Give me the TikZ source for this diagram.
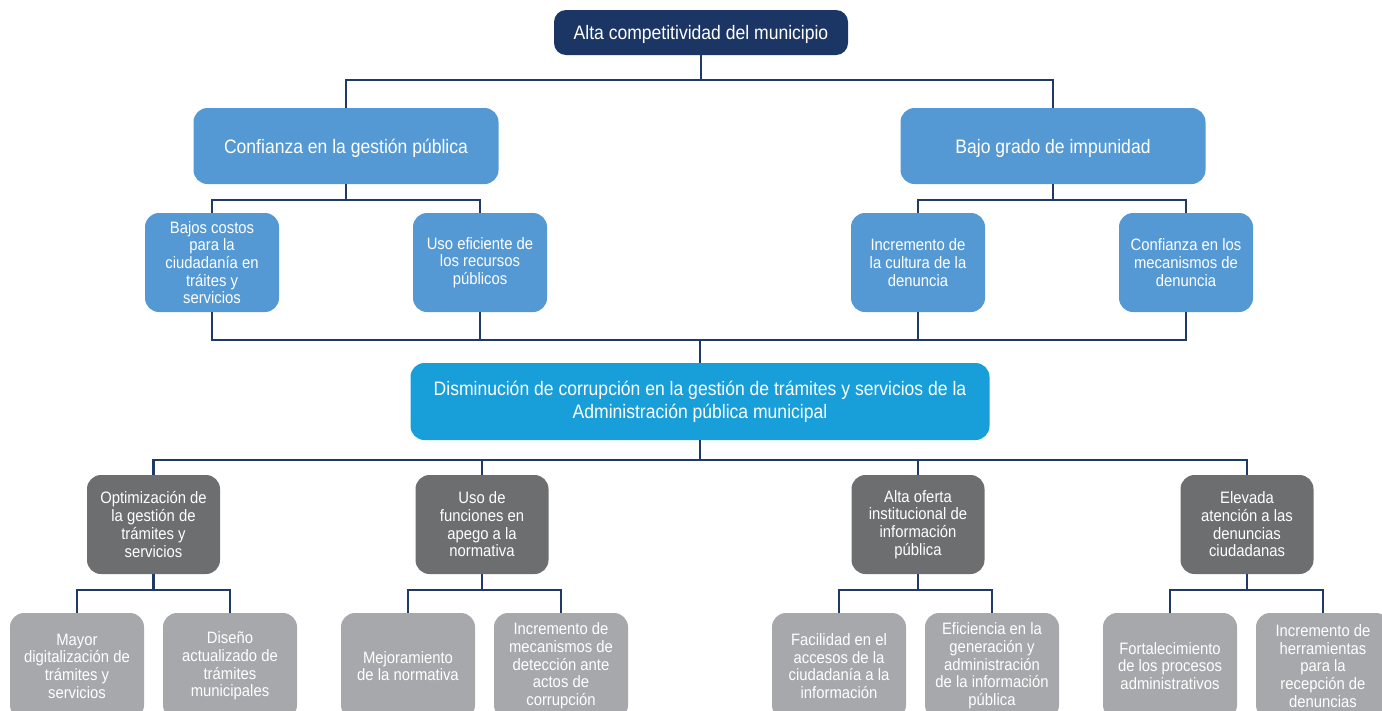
\documentclass[tikz,border=0pt]{standalone}
\usepackage{fontspec}
\setmainfont[FakeStretch=0.9]{Liberation Sans}
\usepackage{tikz}
\usetikzlibrary{positioning}
\usepackage{xcolor}
\definecolor{mnavy}{RGB}{27,53,100}
\definecolor{mline}{RGB}{31,57,104}
\definecolor{mblue}{RGB}{84,153,211}
\definecolor{mcyan}{RGB}{24,159,217}
\definecolor{mdgray}{RGB}{109,110,112}
\definecolor{mlgray}{RGB}{166,168,171}
\newcommand{\bigtxt}{\fontsize{19.5}{23}\selectfont}
\newcommand{\smalltxt}{\fontsize{16.5}{17.7}\selectfont}
\tikzstyle{goal} = [rectangle, rounded corners=12pt, minimum width=294pt, minimum height=45pt, text height=14pt, text depth=0pt, text centered, fill=mnavy, text=white, font=\bigtxt]
\tikzstyle{effect} = [rectangle, rounded corners=14pt, minimum width=305pt, minimum height=76pt, text height=14pt, text depth=0pt, text centered, fill=mblue, text=white, font=\bigtxt]
\tikzstyle{subeffect} = [rectangle, rounded corners=14pt, minimum width=134pt, minimum height=99pt, inner sep=0pt, align=center, fill=mblue, text=white, font=\smalltxt]
\tikzstyle{core} = [rectangle, rounded corners=14pt, minimum width=579pt, minimum height=77pt, align=center, fill=mcyan, text=white, font=\bigtxt]
\tikzstyle{means} = [rectangle, rounded corners=14pt, minimum width=133pt, minimum height=99pt, inner sep=0pt, align=center, fill=mdgray, text=white, font=\smalltxt]
\tikzstyle{action} = [rectangle, rounded corners=14pt, minimum width=134pt, minimum height=106pt, inner sep=0pt, align=center, fill=mlgray, text=white, font=\smalltxt]
\tikzstyle{link} = [line width=2.8pt, color=mline]

\begin{document}
\begin{tikzpicture}[x=1pt, y=-1pt]
\useasboundingbox (0,0) rectangle (1382,710);
\clip (0,0) rectangle (1382,710);

% Goal
\node[goal] (alta) at (701,32.5) {Alta competitividad del municipio};

% Effects
\node[effect] (confg) at (346,146) {Confianza en la gestión pública};
\node[effect] (impun) at (1053,146) {Bajo grado de impunidad};

% Sub-effects
\node[subeffect] (bajos) at (212,262.5) {Bajos costos\\para la\\ciudadanía en\\tráites y\\servicios};
\node[subeffect] (usoef) at (480,262.5) {Uso eficiente de\\los recursos\\públicos};
\node[subeffect] (cultu) at (918,262.5) {Incremento de\\la cultura de la\\denuncia};
\node[subeffect] (confm) at (1186,262.5) {Confianza en los\\mecanismos de\\denuncia};

% Central objective
\node[core] (dismi) at (700,401.5) {Disminución de corrupción en la gestión de trámites y servicios de la\\Administración pública municipal};

% Means
\node[means] (optim) at (153.5,524.5) {Optimización de\\la gestión de\\trámites y\\servicios};
\node[means] (funci) at (482,524.5) {Uso de\\funciones en\\apego a la\\normativa};
\node[means] (ofert) at (918,524.5) {Alta oferta\\institucional de\\información\\pública};
\node[means] (eleva) at (1247,524.5) {Elevada\\atención a las\\denuncias\\ciudadanas};

% Actions
\node[action] (digit) at (77,666) {Mayor\\digitalización de\\trámites y\\servicios};
\node[action] (disen) at (230,666) {Diseño\\actualizado de\\trámites\\municipales};
\node[action] (mejor) at (408,666) {Mejoramiento\\de la normativa};
\node[action] (detec) at (561,666) {Incremento de\\mecanismos de\\detección ante\\actos de\\corrupción};
\node[action] (facil) at (839,666) {Facilidad en el\\accesos de la\\ciudadanía a la\\información};
\node[action] (efici) at (992,666) {Eficiencia en la\\generación y\\administración\\de la información\\pública};
\node[action] (forta) at (1170,666) {Fortalecimiento\\de los procesos\\administrativos};
\node[action] (herra) at (1323,666) {Incremento de\\herramientas\\para la\\recepción de\\denuncias};

% Junctions
\coordinate (j1) at (701,80);
\coordinate (j2a) at (346,200);
\coordinate (j2b) at (1053,200);
\coordinate (j3) at (700,340);
\coordinate (j4) at (700,460);
\coordinate (k1) at (153.5,590);
\coordinate (k2) at (482,590);
\coordinate (k3) at (918,590);
\coordinate (k4) at (1247,590);

% Connectors
\draw[link] (alta.south) -- (j1);
\draw[link] (confg.north) |- (j1) -| (impun.north);
\draw[link] (confg.south) -- (j2a);
\draw[link] (bajos.north) |- (j2a) -| (usoef.north);
\draw[link] (impun.south) -- (j2b);
\draw[link] (cultu.north) |- (j2b) -| (confm.north);
\draw[link] (bajos.south) |- (j3) -| (confm.south);
\draw[link] (usoef.south) |- (j3);
\draw[link] (cultu.south) |- (j3);
\draw[link] (j3) -- (dismi.north);
\draw[link] (dismi.south) -- (j4);
\draw[link] (optim.north) |- (j4) -| (eleva.north);
\draw[link] (funci.north) |- (j4);
\draw[link] (ofert.north) |- (j4);
\draw[link] (optim.south) -- (k1);
\draw[link] (digit.north) |- (k1) -| (disen.north);
\draw[link] (funci.south) -- (k2);
\draw[link] (mejor.north) |- (k2) -| (detec.north);
\draw[link] (ofert.south) -- (k3);
\draw[link] (facil.north) |- (k3) -| (efici.north);
\draw[link] (eleva.south) -- (k4);
\draw[link] (forta.north) |- (k4) -| (herra.north);
\end{tikzpicture}
\end{document}
